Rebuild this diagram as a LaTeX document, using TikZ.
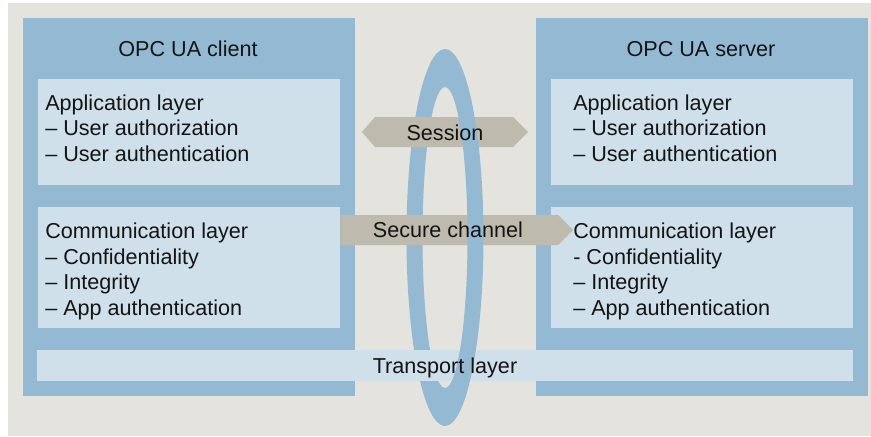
\documentclass[tikz,border=0pt]{standalone}
\usepackage{fontspec}
\setmainfont{Liberation Sans}
\usetikzlibrary{positioning,fit}
\definecolor{bggray}{RGB}{228,227,221}
\definecolor{frameblue}{RGB}{147,186,210}
\definecolor{layerblue}{RGB}{207,224,234}
\definecolor{tagtaupe}{RGB}{190,187,174}
\definecolor{inkblack}{RGB}{20,20,20}

\begin{document}
\begin{tikzpicture}[
    x=0.75pt, y=-0.75pt,
    every node/.style={font=\fontsize{16.2}{19.1}\selectfont, text=inkblack},
    frame/.style={fill=frameblue, inner sep=0pt},
    layer/.style={fill=layerblue, inner sep=0pt},
    tag/.style={fill=tagtaupe},
    ring/.style={fill=frameblue, even odd rule},
    txt/.style={align=left, inner sep=0pt, anchor=north west}
]
    \useasboundingbox (0,0) rectangle (871,436);
    \fill[white] (0,0) rectangle (871,436);
    \fill[bggray] (8,3) rectangle (871,436);

    % client and server frames
    \node[frame, fit={(23,18) (355,396)}] (client) {};
    \node[frame, fit={(536,18) (868,396)}] (server) {};

    \node[layer, fit={(38,79) (340,185)}] (capp) {};
    \node[layer, fit={(38,207) (340,328)}] (ccomm) {};
    \node[layer, fit={(551,79) (853,185)}] (sapp) {};
    \node[layer, fit={(551,207) (853,328)}] (scomm) {};

    % ring, back half
    \begin{scope}
        \clip (0,0) rectangle (445,436);
        \fill[ring] (445,237.5) ellipse [x radius=38.5, y radius=188.5]
                    (445,237.5) ellipse [x radius=22.5, y radius=150.5];
    \end{scope}

    % session, secure channel, transport
    \fill[tag] (362,132) -- (375,117) -- (513,117) -- (528,132) -- (513,147) -- (375,147) -- cycle;
    \fill[tag] (capp.east |- 0,215) -- (558,215) -- (573,230) -- (558,245) -- (capp.east |- 0,245) -- cycle;
    \node[layer, fit={(37,350) (853,381)}] (transport) {};

    % ring, front half
    \begin{scope}
        \clip (445,0) rectangle (871,436);
        \fill[ring] (445,237.5) ellipse [x radius=38.5, y radius=188.5]
                    (445,237.5) ellipse [x radius=22.5, y radius=150.5];
    \end{scope}

    % texts
    \node[anchor=base] (clienttitle) at (188,56) {OPC UA client};
    \node[anchor=base] (servertitle) at (701,56) {OPC UA server};

    \node[txt] (capptext) at (45,94.5) {Application layer\\– User authorization\\– User authentication};
    \node[txt] (ccommtext) at (45,222.8) {Communication layer\\– Confidentiality\\– Integrity\\– App authentication};
    \node[txt] (sapptext) at (573,94.5) {Application layer\\– User authorization\\– User authentication};
    \node[txt] (scommtext) at (573,222.8) {Communication layer\\- Confidentiality\\– Integrity\\– App authentication};

    \node[anchor=base] (sessiontext) at (445,140) {Session};
    \node[anchor=base] (securetext) at (448,237) {Secure channel};
    \node[anchor=base] (transporttext) at (445,373) {Transport layer};
\end{tikzpicture}
\end{document}
